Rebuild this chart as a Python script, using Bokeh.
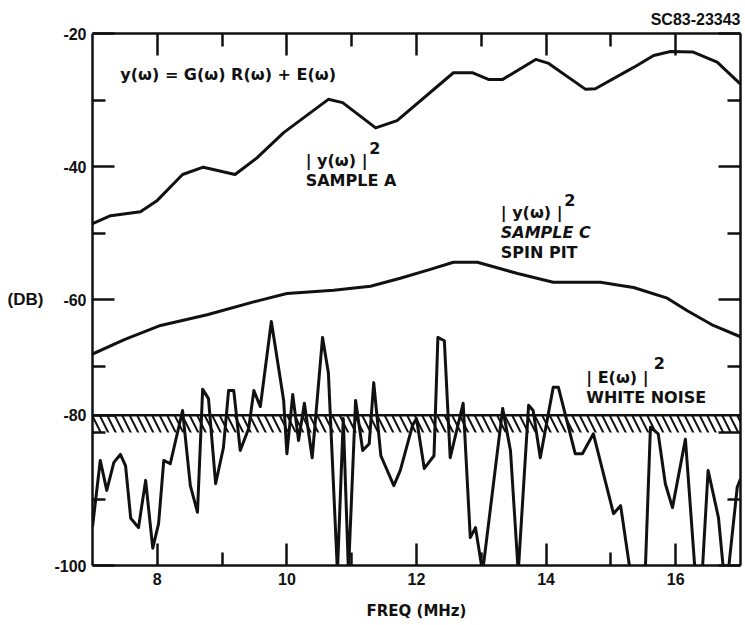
from bokeh.plotting import figure
from bokeh.models import LinearAxis, FixedTicker, Label, Span, Range1d
from bokeh.embed import file_html
from bokeh.resources import INLINE

# ---- data ----
sample_a_freq = [7.0, 7.28, 7.74, 8.0, 8.39, 8.71, 9.2, 9.55, 9.95, 10.24, 10.64, 10.86, 11.37, 11.7,
                 12.57, 12.86, 13.11, 13.33, 13.84, 14.04, 14.61, 14.76, 15.35, 15.66, 15.92, 16.27, 16.64, 17.0]
sample_a_db = [-48.6, -47.4, -46.8, -45.1, -41.2, -40.1, -41.2, -38.6, -34.9, -32.8, -29.9, -30.4, -34.2, -33.1,
               -25.9, -25.9, -26.9, -26.9, -23.9, -24.5, -28.4, -28.3, -25.1, -23.3, -22.7, -22.8, -24.3, -27.6]

sample_c_freq = [7.0, 7.5, 8.05, 8.77, 9.55, 10.0, 10.72, 11.29, 11.75, 12.2, 12.57, 12.94, 13.56, 14.11,
                 14.84, 15.15, 15.35, 15.87, 16.18, 16.58, 17.0]
sample_c_db = [-68.2, -66.0, -63.9, -62.3, -60.2, -59.1, -58.6, -58.0, -56.8, -55.5, -54.4, -54.4, -56.1, -57.4,
               -57.4, -57.9, -58.2, -59.8, -61.7, -63.9, -65.6]

noise_freq = [7.0, 7.12, 7.22, 7.33, 7.43, 7.51, 7.59, 7.71, 7.82, 7.93, 8.02, 8.1, 8.2, 8.39, 8.51, 8.62,
              8.7, 8.79, 8.9, 9.02, 9.1, 9.18, 9.28, 9.41, 9.49, 9.59, 9.76, 9.95, 10.0, 10.09, 10.18, 10.27,
              10.39, 10.55, 10.64, 10.78, 10.87, 10.95, 11.06, 11.17, 11.27, 11.34, 11.45, 11.65, 11.75, 11.94,
              12.0, 12.12, 12.27, 12.33, 12.43, 12.52, 12.72, 12.83, 12.91, 13.02, 13.33, 13.45, 13.57, 13.73,
              13.8, 13.91, 14.11, 14.19, 14.45, 14.56, 14.73, 15.04, 15.15, 15.3, 15.53, 15.61, 15.73, 15.84,
              15.95, 16.15, 16.3, 16.41, 16.5, 16.66, 16.74, 16.81, 16.95, 17.0]
noise_db = [-94.2, -84.2, -88.7, -84.5, -83.3, -85.0, -92.9, -94.3, -87.2, -97.4, -93.7, -84.2, -84.7, -76.7,
            -88.0, -92.0, -73.5, -74.9, -87.7, -82.3, -73.7, -73.7, -82.7, -79.4, -73.7, -76.1, -63.3, -75.2,
            -83.2, -74.3, -81.2, -75.6, -83.8, -65.7, -71.0, -101, -77.9, -101, -75.2, -82.7, -81.7, -72.5,
            -83.5, -88.0, -85.7, -78.9, -77.9, -85.4, -83.5, -65.7, -66.2, -83.8, -75.6, -95.8, -94.3, -101,
            -76.4, -82.7, -101, -75.9, -76.7, -83.8, -73.2, -73.2, -83.2, -83.2, -80.2, -92.2, -91.0, -101,
            -101, -79.2, -80.2, -87.7, -91.3, -81.0, -101, -101, -85.7, -92.8, -101, -101, -88.2, -87.0]

# white-noise floor band (labelled "-80" on the chart at its upper edge)
noise_floor_top = -77.4
noise_floor_bottom = -80.0

x_major = [8, 10, 12, 14, 16]
x_minor = [9, 11, 13, 15]
y_major = [-100, -80, -60, -40, -20]
y_minor = [-90, -70, -50, -30]
y_left_major = [-100, noise_floor_top, -60, -40, -20]
y_left_minor = [-90, -80, -70, -50, -30]
y_left_labels = {-100: "-100", noise_floor_top: "-80", -60: "-60", -40: "-40", -20: "-20"}

NUM_FONT = "Liberation Sans"
TXT_FONT = "DejaVu Sans"
INK = "#111111"

p = figure(width=745, height=625, x_range=Range1d(7, 17), y_range=Range1d(-100, -20),
           output_backend="svg", toolbar_location=None,
           min_border_left=92, min_border_right=5, min_border_top=33, min_border_bottom=60,
           title="SC83-23343")
p.title.align = "right"
p.title.text_font = NUM_FONT
p.title.text_font_size = "16px"
p.title.text_font_style = "bold"
p.title.text_color = INK
p.title.standoff = 11
p.grid.visible = False
p.outline_line_color = None
p.background_fill_color = "white"
p.border_fill_color = "white"

bottom_ax = p.below[0]
left_ax = p.left[0]
bottom_ax.ticker = FixedTicker(ticks=x_major, minor_ticks=x_minor)
left_ax.ticker = FixedTicker(ticks=y_left_major, minor_ticks=y_left_minor)
left_ax.major_label_overrides = y_left_labels

top_ax = LinearAxis(ticker=FixedTicker(ticks=x_major, minor_ticks=x_minor),
                    major_label_overrides={t: "" for t in x_major})
right_ax = LinearAxis(ticker=FixedTicker(ticks=y_major, minor_ticks=y_minor),
                      major_label_overrides={t: "" for t in y_major})
p.add_layout(top_ax, "above")
p.add_layout(right_ax, "right")

for ax in [bottom_ax, left_ax, top_ax, right_ax]:
    ax.axis_line_width = 2.5
    ax.axis_line_color = INK
    ax.major_tick_line_width = 2.5
    ax.minor_tick_line_width = 2.5
    ax.major_tick_line_color = INK
    ax.minor_tick_line_color = INK
    ax.major_tick_in = 22
    ax.major_tick_out = 0
    ax.minor_tick_in = 13
    ax.minor_tick_out = 0
    ax.major_label_text_font = NUM_FONT
    ax.major_label_text_font_size = "16px"
    ax.major_label_text_font_style = "bold"
    ax.major_label_text_color = INK

for ax in [top_ax, right_ax]:
    ax.major_label_standoff = 0

bottom_ax.major_label_standoff = 7
left_ax.major_label_standoff = 6

bottom_ax.axis_label = "FREQ (MHz)"
bottom_ax.axis_label_text_font = TXT_FONT
bottom_ax.axis_label_text_font_size = "15px"
bottom_ax.axis_label_text_font_style = "bold"
bottom_ax.axis_label_text_color = INK
bottom_ax.axis_label_standoff = 14

left_ax.axis_label = "(DB)"
left_ax.axis_label_orientation = "horizontal"
left_ax.axis_label_text_font = NUM_FONT
left_ax.axis_label_text_font_size = "17px"
left_ax.axis_label_text_font_style = "bold"
left_ax.axis_label_text_color = INK
left_ax.axis_label_standoff = 8

# white-noise hatched band
p.quad(left=7, right=17, top=noise_floor_top, bottom=noise_floor_bottom,
       fill_color=None, line_color=None, hatch_pattern="\\", hatch_color=INK,
       hatch_scale=15, hatch_weight=2)
p.add_layout(Span(location=noise_floor_top, dimension="width", line_color=INK, line_width=2.5))

# curves
p.line(noise_freq, noise_db, line_width=3, line_color=INK, line_join="round")
p.line(sample_c_freq, sample_c_db, line_width=3, line_color=INK, line_join="round")
p.line(sample_a_freq, sample_a_db, line_width=3, line_color=INK, line_join="round")


def lab(x, y, t, size="16px", style="bold"):
    p.add_layout(Label(x=x, y=y, text=t, text_align="left", text_baseline="middle",
                       text_font=TXT_FONT, text_font_size=size, text_font_style=style, text_color=INK))


lab(7.43, -26.2, "y(\u03c9) = G(\u03c9) R(\u03c9) + E(\u03c9)")
lab(10.29, -39.1, "| y(\u03c9) |")
lab(11.27, -37.2, "2", size="16px")
lab(10.29, -42.1, "SAMPLE A")
lab(13.3, -46.9, "| y(\u03c9) |")
lab(14.28, -45.1, "2", size="16px")
lab(13.3, -49.9, "SAMPLE C", style="bold italic")
lab(13.3, -52.9, "SPIN PIT")
lab(14.62, -71.7, "| E(\u03c9) |")
lab(15.66, -69.6, "2", size="16px")
lab(14.62, -74.7, "WHITE NOISE")

open("out.html", "w").write(file_html(p, INLINE))
